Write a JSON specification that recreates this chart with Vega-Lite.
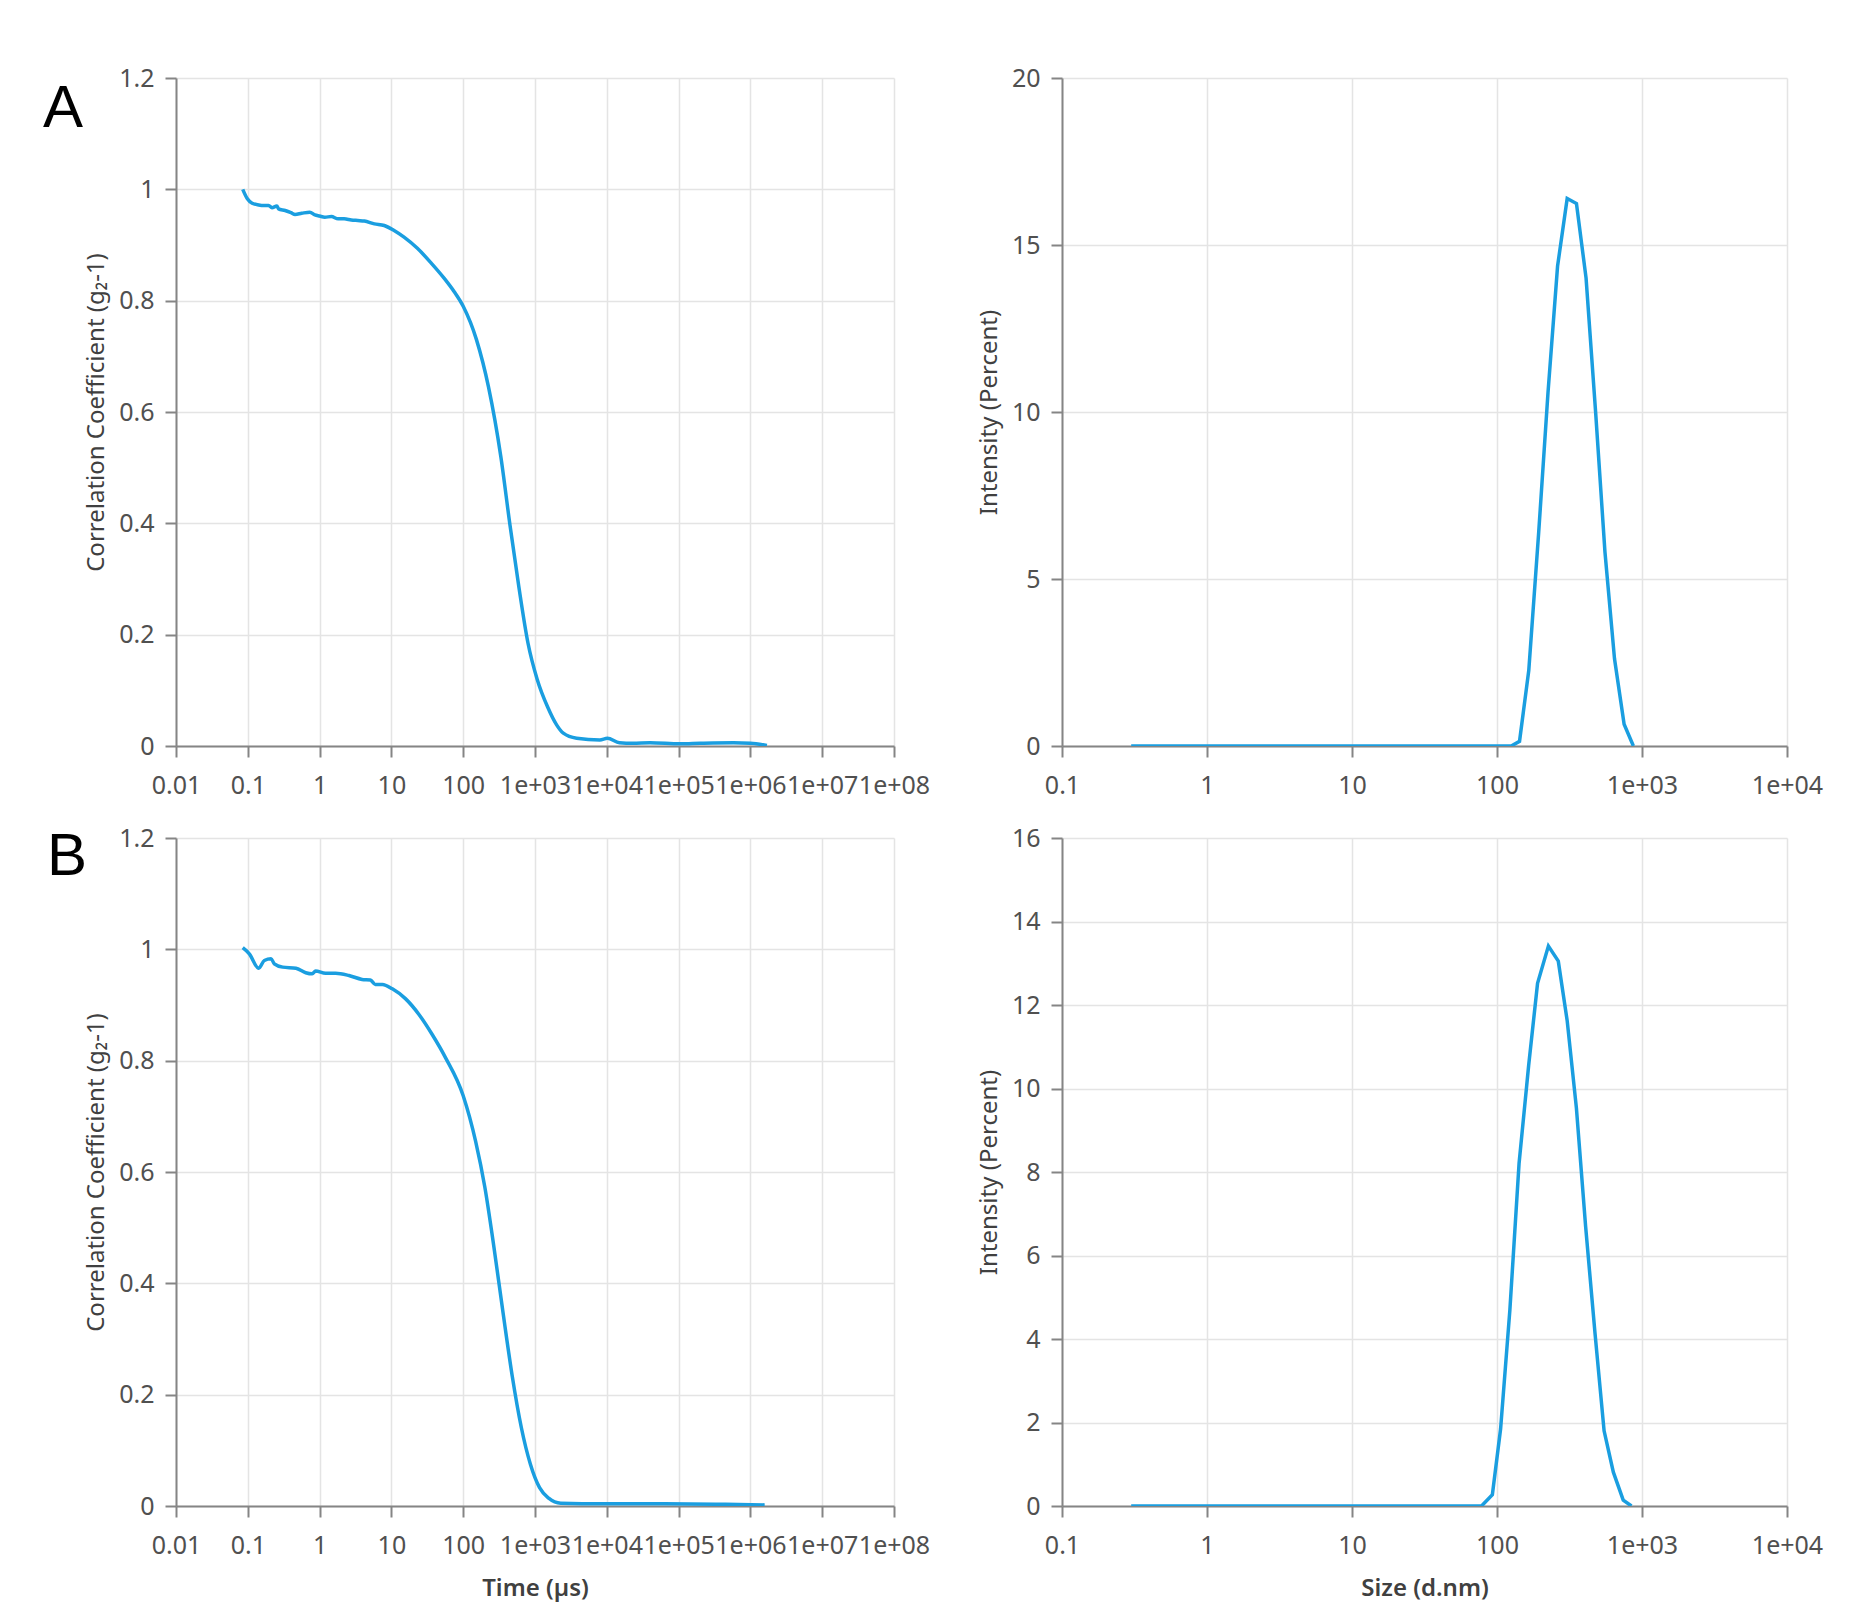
{
  "$schema": "https://vega.github.io/schema/vega-lite/v6.json",
  "background": "white",
  "padding": {"left": 43, "top": 66, "right": 5, "bottom": 5},
  "config": {
    "font": "Noto Sans",
    "view": {"stroke": null},
    "axis": {
      "domainColor": "#858585",
      "domainWidth": 2,
      "tickColor": "#858585",
      "tickWidth": 2,
      "tickSize": 11,
      "gridColor": "#e4e4e4",
      "gridWidth": 1.5,
      "labelColor": "#505050",
      "labelFontSize": 25,
      "labelPadding": 11,
      "labelFont": "Noto Sans",
      "titleColor": "#404040",
      "titleFontSize": 24,
      "titleFont": "Noto Sans",
      "titleFontWeight": "normal",
      "titlePadding": 10
    },
    "axisX": {"labelPadding": 16, "labelFlush": false, "labelOverlap": false, "zindex": 1, "titlePadding": 18, "titleFontWeight": 600}
  },
  "datasets": {
    "corrA": [
      {"t": 0.085, "g": 1.0}, {"t": 0.0986, "g": 0.983}, {"t": 0.115, "g": 0.975}, {"t": 0.142, "g": 0.972},
      {"t": 0.166, "g": 0.971}, {"t": 0.195, "g": 0.971}, {"t": 0.217, "g": 0.967}, {"t": 0.254, "g": 0.97},
      {"t": 0.268, "g": 0.965}, {"t": 0.331, "g": 0.962}, {"t": 0.4, "g": 0.958}, {"t": 0.455, "g": 0.955},
      {"t": 0.563, "g": 0.957}, {"t": 0.73, "g": 0.959}, {"t": 0.86, "g": 0.954}, {"t": 1.0, "g": 0.952},
      {"t": 1.18, "g": 0.95}, {"t": 1.46, "g": 0.951}, {"t": 1.81, "g": 0.947}, {"t": 2.2, "g": 0.947},
      {"t": 2.76, "g": 0.945}, {"t": 3.4, "g": 0.944}, {"t": 4.2, "g": 0.943}, {"t": 5.8, "g": 0.938},
      {"t": 7.95, "g": 0.935}, {"t": 10.9, "g": 0.926}, {"t": 15, "g": 0.914}, {"t": 23, "g": 0.894},
      {"t": 35.6, "g": 0.868}, {"t": 54.5, "g": 0.84}, {"t": 75, "g": 0.816}, {"t": 100, "g": 0.79},
      {"t": 153, "g": 0.73}, {"t": 225, "g": 0.645}, {"t": 334, "g": 0.52}, {"t": 447, "g": 0.398},
      {"t": 597, "g": 0.285}, {"t": 798, "g": 0.185}, {"t": 1071, "g": 0.12}, {"t": 1500, "g": 0.07},
      {"t": 2000, "g": 0.038}, {"t": 2480, "g": 0.023}, {"t": 3800, "g": 0.014}, {"t": 8000, "g": 0.011},
      {"t": 10200, "g": 0.014}, {"t": 15000, "g": 0.006}, {"t": 23000, "g": 0.005}, {"t": 40000, "g": 0.006},
      {"t": 105000, "g": 0.004}, {"t": 200000, "g": 0.005}, {"t": 580000, "g": 0.006}, {"t": 1000000, "g": 0.005},
      {"t": 1700000, "g": 0.001}
    ],
    "corrB": [
      {"t": 0.085, "g": 1.003}, {"t": 0.105, "g": 0.992}, {"t": 0.142, "g": 0.966}, {"t": 0.17, "g": 0.98},
      {"t": 0.211, "g": 0.983}, {"t": 0.234, "g": 0.974}, {"t": 0.306, "g": 0.968}, {"t": 0.468, "g": 0.966},
      {"t": 0.64, "g": 0.958}, {"t": 0.79, "g": 0.956}, {"t": 0.88, "g": 0.961}, {"t": 1.21, "g": 0.957},
      {"t": 1.67, "g": 0.957}, {"t": 2.56, "g": 0.953}, {"t": 3.9, "g": 0.946}, {"t": 5.08, "g": 0.945},
      {"t": 5.97, "g": 0.937}, {"t": 7.5, "g": 0.937}, {"t": 10.3, "g": 0.929}, {"t": 15.8, "g": 0.911},
      {"t": 24.2, "g": 0.883}, {"t": 37, "g": 0.847}, {"t": 56.4, "g": 0.806}, {"t": 100, "g": 0.737},
      {"t": 149, "g": 0.655}, {"t": 200, "g": 0.573}, {"t": 268, "g": 0.465}, {"t": 359, "g": 0.347},
      {"t": 481, "g": 0.234}, {"t": 645, "g": 0.141}, {"t": 863, "g": 0.075}, {"t": 1157, "g": 0.033},
      {"t": 1550, "g": 0.014}, {"t": 2290, "g": 0.005}, {"t": 8900, "g": 0.004}, {"t": 63000, "g": 0.004},
      {"t": 450000, "g": 0.003}, {"t": 1580000, "g": 0.002}
    ],
    "distA": [
      {"d": 0.3, "p": 0}, {"d": 125.4, "p": 0}, {"d": 143.0, "p": 0.14}, {"d": 165.6, "p": 2.26},
      {"d": 194.0, "p": 6.41}, {"d": 224.7, "p": 10.57}, {"d": 261.7, "p": 14.37}, {"d": 304.8, "p": 16.39},
      {"d": 353.2, "p": 16.24}, {"d": 411.4, "p": 14.01}, {"d": 479.0, "p": 9.98}, {"d": 555.0, "p": 5.82},
      {"d": 646.3, "p": 2.61}, {"d": 752.8, "p": 0.65}, {"d": 872.1, "p": 0}
    ],
    "distB": [
      {"d": 0.3, "p": 0}, {"d": 78.2, "p": 0}, {"d": 92.9, "p": 0.27}, {"d": 105.9, "p": 1.85},
      {"d": 122.7, "p": 4.7}, {"d": 142.0, "p": 8.21}, {"d": 165.3, "p": 10.55}, {"d": 190.4, "p": 12.52},
      {"d": 226.2, "p": 13.41}, {"d": 264.7, "p": 13.05}, {"d": 304.9, "p": 11.62}, {"d": 352.9, "p": 9.53},
      {"d": 408.6, "p": 6.69}, {"d": 473.2, "p": 4.17}, {"d": 547.7, "p": 1.8}, {"d": 634.4, "p": 0.81},
      {"d": 742.2, "p": 0.14}, {"d": 845.9, "p": 0}
    ]
  },
  "concat": [
    {
      "width": 718, "height": 668,
      "data": {"name": "corrA"},
      "title": {"text": "A", "anchor": "start", "frame": "group", "orient": "top", "offset": 0, "dx": -133, "dy": 121, "baseline": "alphabetic", "fontSize": 60, "font": "Liberation Sans", "fontWeight": "normal", "color": "#000000"},
      "mark": {"type": "line", "color": "#1a9ee0", "strokeWidth": 3.5, "clip": true, "interpolate": "monotone"},
      "encoding": {
        "x": {"field": "t", "type": "quantitative", "scale": {"type": "log", "domain": [0.01, 100000000], "nice": false},
          "axis": {"title": null, "values": [0.01, 0.1, 1, 10, 100, 1000, 10000, 100000, 1000000, 10000000, 100000000],
            "labelExpr": "datum.value >= 1000 ? '1e+0' + round(log(datum.value) / LN10) : format(datum.value, '~g')"}},
        "y": {"field": "g", "type": "quantitative", "scale": {"domain": [0, 1.2], "nice": false},
          "axis": {"title": "Correlation Coefficient (g₂-1)", "values": [0, 0.2, 0.4, 0.6, 0.8, 1, 1.2], "format": "~g"}}
      }
    },
    {
      "width": 725, "height": 668,
      "data": {"name": "distA"},
      "mark": {"type": "line", "color": "#1a9ee0", "strokeWidth": 3.5, "clip": true},
      "encoding": {
        "x": {"field": "d", "type": "quantitative", "scale": {"type": "log", "domain": [0.1, 10000], "nice": false},
          "axis": {"title": null, "values": [0.1, 1, 10, 100, 1000, 10000],
            "labelExpr": "datum.value >= 1000 ? '1e+0' + round(log(datum.value) / LN10) : format(datum.value, '~g')"}},
        "y": {"field": "p", "type": "quantitative", "scale": {"domain": [0, 20], "nice": false},
          "axis": {"title": "Intensity (Percent)", "values": [0, 5, 10, 15, 20]}}
      }
    },
    {
      "width": 718, "height": 668,
      "data": {"name": "corrB"},
      "title": {"text": "B", "anchor": "start", "frame": "group", "orient": "top", "offset": 0, "dx": -129, "dy": 109, "baseline": "alphabetic", "fontSize": 60, "font": "Liberation Sans", "fontWeight": "normal", "color": "#000000"},
      "mark": {"type": "line", "color": "#1a9ee0", "strokeWidth": 3.5, "clip": true, "interpolate": "monotone"},
      "encoding": {
        "x": {"field": "t", "type": "quantitative", "scale": {"type": "log", "domain": [0.01, 100000000], "nice": false},
          "axis": {"title": "Time (µs)", "values": [0.01, 0.1, 1, 10, 100, 1000, 10000, 100000, 1000000, 10000000, 100000000],
            "labelExpr": "datum.value >= 1000 ? '1e+0' + round(log(datum.value) / LN10) : format(datum.value, '~g')"}},
        "y": {"field": "g", "type": "quantitative", "scale": {"domain": [0, 1.2], "nice": false},
          "axis": {"title": "Correlation Coefficient (g₂-1)", "values": [0, 0.2, 0.4, 0.6, 0.8, 1, 1.2], "format": "~g"}}
      }
    },
    {
      "width": 725, "height": 668,
      "data": {"name": "distB"},
      "mark": {"type": "line", "color": "#1a9ee0", "strokeWidth": 3.5, "clip": true},
      "encoding": {
        "x": {"field": "d", "type": "quantitative", "scale": {"type": "log", "domain": [0.1, 10000], "nice": false},
          "axis": {"title": "Size (d.nm)", "values": [0.1, 1, 10, 100, 1000, 10000],
            "labelExpr": "datum.value >= 1000 ? '1e+0' + round(log(datum.value) / LN10) : format(datum.value, '~g')"}},
        "y": {"field": "p", "type": "quantitative", "scale": {"domain": [0, 16], "nice": false},
          "axis": {"title": "Intensity (Percent)", "values": [0, 2, 4, 6, 8, 10, 12, 14, 16]}}
      }
    }
  ],
  "columns": 2,
  "align": "each",
  "bounds": "flush",
  "spacing": {"row": 92, "column": 168}
}
